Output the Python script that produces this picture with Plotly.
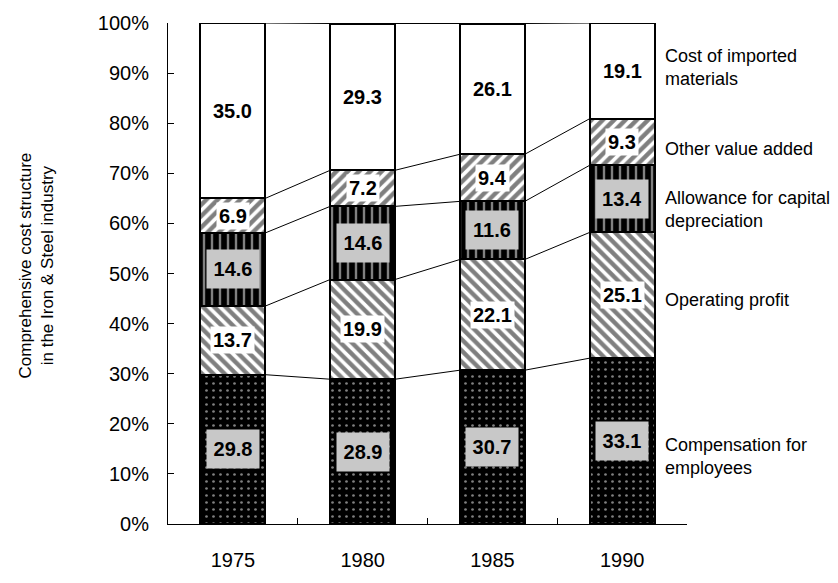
import plotly.graph_objects as go

years = ["1975", "1980", "1985", "1990"]
compensation = [29.8, 28.9, 30.7, 33.1]
operating_profit = [13.7, 19.9, 22.1, 25.1]
depreciation = [14.6, 14.6, 11.6, 13.4]
other_value = [6.9, 7.2, 9.4, 9.3]
imported = [35.0, 29.3, 26.1, 19.1]

series_names = ["Compensation for<br>employees", "Operating profit",
                "Allowance for capital<br>depreciation", "Other value added",
                "Cost of imported<br>materials"]
y_ticks = [0, 10, 20, 30, 40, 50, 60, 70, 80, 90, 100]
y_tick_text = [f"{v}%" for v in y_ticks]

series = [compensation, operating_profit, depreciation, other_value, imported]
patterns = [
    dict(shape=".", fgcolor="white", bgcolor="black", size=7, solidity=0.12),
    dict(shape="\\", fgcolor="black", bgcolor="white", size=8, solidity=0.55),
    dict(shape="|", fgcolor="white", bgcolor="black", size=8, solidity=0.3),
    dict(shape="/", fgcolor="black", bgcolor="white", size=8, solidity=0.55),
    dict(shape="", fgcolor="black", bgcolor="white", size=8, solidity=0.5),
]
label_bg = ["#c8c8c8", "white", "#c8c8c8", "white", "white"]

FONT = "Arial, 'Liberation Sans', Helvetica, sans-serif"
BAR_W = 0.5
xs = list(range(len(years)))

fig = go.Figure()
for vals, pat, name in zip(series, patterns, series_names):
    fig.add_trace(go.Bar(
        x=xs, y=vals, width=BAR_W, name=name,
        marker=dict(color=pat["bgcolor"], pattern=pat,
                    line=dict(color="black", width=2)),
        showlegend=False, hoverinfo="skip"))

# series connector lines between bars
cum = [0.0] * len(years)
bounds = []
for vals in series:
    cum = [c + v for c, v in zip(cum, vals)]
    bounds.append(list(cum))
for b in bounds:
    lx, ly = [], []
    for i in range(len(years) - 1):
        lx += [xs[i] + BAR_W / 2, xs[i + 1] - BAR_W / 2, None]
        ly += [b[i], b[i + 1], None]
    fig.add_trace(go.Scatter(x=lx, y=ly, mode="lines",
                             line=dict(color="black", width=1),
                             showlegend=False, hoverinfo="skip"))

# invisible trace to carry the year-label axis
fig.add_trace(go.Scatter(x=xs, y=[0] * len(xs), xaxis="x2", mode="markers",
                         marker=dict(opacity=0), showlegend=False,
                         hoverinfo="skip"))

# value labels
annotations = []
cum = [0.0] * len(years)
for k, vals in enumerate(series):
    for i, v in enumerate(vals):
        grey = label_bg[k] != "white"
        annotations.append(dict(
            x=xs[i], y=cum[i] + v / 2, xref="x", yref="y",
            text=f"<b>{v:.1f}</b>", showarrow=False,
            font=dict(family=FONT, size=20, color="black"),
            bgcolor=label_bg[k], borderpad=2,
            width=48 if grey else None, height=34 if grey else None))
    cum = [c + v for c, v in zip(cum, vals)]

# right-side series labels
label_y = [13.5, 44.8, 62.8, 74.8, 91.1]
for name, ly in zip(series_names, label_y):
    annotations.append(dict(
        x=3.32, y=ly, xref="x", yref="y", xanchor="left", yanchor="middle",
        text=name, align="left", showarrow=False, borderpad=0,
        font=dict(family=FONT, size=18, color="black")))

annotations.append(dict(
    x=0, y=0.5, xref="paper", yref="paper", xshift=-132, yshift=8,
    text="Comprehensive cost structure<br>in the Iron & Steel industry",
    textangle=-90, showarrow=False, xanchor="center", yanchor="middle",
    font=dict(family=FONT, size=17, color="black")))

fig.update_layout(
    width=838, height=583,
    margin=dict(l=168, r=151, t=14, b=45),
    paper_bgcolor="white", plot_bgcolor="white",
    barmode="stack",
    font=dict(family=FONT, color="black"),
    annotations=annotations,
    xaxis=dict(range=[-0.5, 3.5], tickvals=[0.5, 1.5, 2.5, 3.5],
               ticks="inside", ticklen=6, tickcolor="black",
               showticklabels=False, showline=True, linecolor="black",
               linewidth=1, showgrid=False, zeroline=False),
    xaxis2=dict(range=[-0.5, 3.5], overlaying="x", anchor="y", side="bottom",
                tickvals=xs, ticktext=years, ticks="", showline=False,
                showgrid=False, zeroline=False, ticklabelstandoff=22,
                tickfont=dict(family=FONT, size=20, color="black")),
    yaxis=dict(range=[0, 100], tickvals=y_ticks, ticktext=y_tick_text,
               ticks="inside", ticklen=6, tickcolor="black",
               showline=True, linecolor="black", linewidth=1,
               showgrid=False, zeroline=False, ticklabelstandoff=14,
               tickfont=dict(family=FONT, size=20, color="black")),
)
fig.write_html("out.html",
               config={"displayModeBar": False},
               post_script="document.body.style.margin='0';"
                           "document.body.style.padding='0';")
